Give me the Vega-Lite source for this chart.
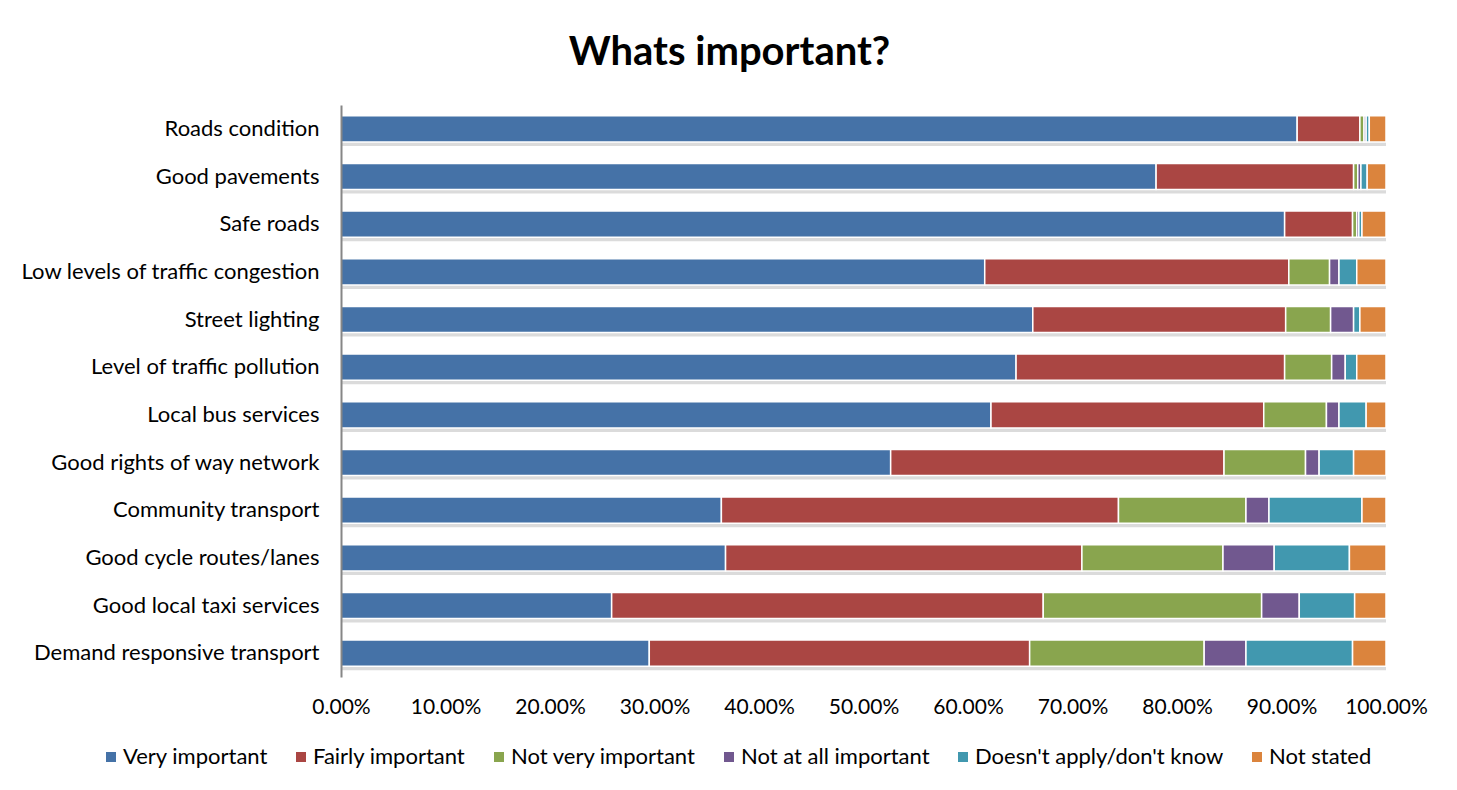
{
  "$schema": "https://vega.github.io/schema/vega-lite/v6.json",
  "width": 1045,
  "height": 572,
  "autosize": {"type": "none"},
  "padding": {"left": 341, "top": 105, "right": 71, "bottom": 113},
  "background": "white",
  "title": {"text": "Whats important?", "font": "Lato", "fontSize": 40, "fontWeight": "bold", "color": "#000", "anchor": "middle", "dx": -134, "offset": 32},
  "config": {"view": {"stroke": null}, "font": "Lato"},
  "datasets": {
    "d": [
      {"item": "Roads condition", "response": "Very important", "pct": 91.5},
      {"item": "Roads condition", "response": "Fairly important", "pct": 6.0},
      {"item": "Roads condition", "response": "Not very important", "pct": 0.4},
      {"item": "Roads condition", "response": "Not at all important", "pct": 0.2},
      {"item": "Roads condition", "response": "Doesn't apply/don't know", "pct": 0.3},
      {"item": "Roads condition", "response": "Not stated", "pct": 1.6},
      {"item": "Good pavements", "response": "Very important", "pct": 78.0},
      {"item": "Good pavements", "response": "Fairly important", "pct": 18.9},
      {"item": "Good pavements", "response": "Not very important", "pct": 0.4},
      {"item": "Good pavements", "response": "Not at all important", "pct": 0.3},
      {"item": "Good pavements", "response": "Doesn't apply/don't know", "pct": 0.6},
      {"item": "Good pavements", "response": "Not stated", "pct": 1.8},
      {"item": "Safe roads", "response": "Very important", "pct": 90.3},
      {"item": "Safe roads", "response": "Fairly important", "pct": 6.5},
      {"item": "Safe roads", "response": "Not very important", "pct": 0.4},
      {"item": "Safe roads", "response": "Not at all important", "pct": 0.2},
      {"item": "Safe roads", "response": "Doesn't apply/don't know", "pct": 0.3},
      {"item": "Safe roads", "response": "Not stated", "pct": 2.3},
      {"item": "Low levels of traffic congestion", "response": "Very important", "pct": 61.6},
      {"item": "Low levels of traffic congestion", "response": "Fairly important", "pct": 29.1},
      {"item": "Low levels of traffic congestion", "response": "Not very important", "pct": 3.9},
      {"item": "Low levels of traffic congestion", "response": "Not at all important", "pct": 0.9},
      {"item": "Low levels of traffic congestion", "response": "Doesn't apply/don't know", "pct": 1.7},
      {"item": "Low levels of traffic congestion", "response": "Not stated", "pct": 2.8},
      {"item": "Street lighting", "response": "Very important", "pct": 66.2},
      {"item": "Street lighting", "response": "Fairly important", "pct": 24.2},
      {"item": "Street lighting", "response": "Not very important", "pct": 4.3},
      {"item": "Street lighting", "response": "Not at all important", "pct": 2.2},
      {"item": "Street lighting", "response": "Doesn't apply/don't know", "pct": 0.6},
      {"item": "Street lighting", "response": "Not stated", "pct": 2.5},
      {"item": "Level of traffic pollution", "response": "Very important", "pct": 64.6},
      {"item": "Level of traffic pollution", "response": "Fairly important", "pct": 25.7},
      {"item": "Level of traffic pollution", "response": "Not very important", "pct": 4.5},
      {"item": "Level of traffic pollution", "response": "Not at all important", "pct": 1.3},
      {"item": "Level of traffic pollution", "response": "Doesn't apply/don't know", "pct": 1.1},
      {"item": "Level of traffic pollution", "response": "Not stated", "pct": 2.8},
      {"item": "Local bus services", "response": "Very important", "pct": 62.2},
      {"item": "Local bus services", "response": "Fairly important", "pct": 26.1},
      {"item": "Local bus services", "response": "Not very important", "pct": 6.0},
      {"item": "Local bus services", "response": "Not at all important", "pct": 1.2},
      {"item": "Local bus services", "response": "Doesn't apply/don't know", "pct": 2.6},
      {"item": "Local bus services", "response": "Not stated", "pct": 1.9},
      {"item": "Good rights of way network", "response": "Very important", "pct": 52.6},
      {"item": "Good rights of way network", "response": "Fairly important", "pct": 31.9},
      {"item": "Good rights of way network", "response": "Not very important", "pct": 7.8},
      {"item": "Good rights of way network", "response": "Not at all important", "pct": 1.3},
      {"item": "Good rights of way network", "response": "Doesn't apply/don't know", "pct": 3.3},
      {"item": "Good rights of way network", "response": "Not stated", "pct": 3.1},
      {"item": "Community transport", "response": "Very important", "pct": 36.4},
      {"item": "Community transport", "response": "Fairly important", "pct": 38.0},
      {"item": "Community transport", "response": "Not very important", "pct": 12.2},
      {"item": "Community transport", "response": "Not at all important", "pct": 2.2},
      {"item": "Community transport", "response": "Doesn't apply/don't know", "pct": 8.9},
      {"item": "Community transport", "response": "Not stated", "pct": 2.3},
      {"item": "Good cycle routes/lanes", "response": "Very important", "pct": 36.8},
      {"item": "Good cycle routes/lanes", "response": "Fairly important", "pct": 34.1},
      {"item": "Good cycle routes/lanes", "response": "Not very important", "pct": 13.5},
      {"item": "Good cycle routes/lanes", "response": "Not at all important", "pct": 4.9},
      {"item": "Good cycle routes/lanes", "response": "Doesn't apply/don't know", "pct": 7.2},
      {"item": "Good cycle routes/lanes", "response": "Not stated", "pct": 3.5},
      {"item": "Good local taxi services", "response": "Very important", "pct": 25.9},
      {"item": "Good local taxi services", "response": "Fairly important", "pct": 41.3},
      {"item": "Good local taxi services", "response": "Not very important", "pct": 20.9},
      {"item": "Good local taxi services", "response": "Not at all important", "pct": 3.6},
      {"item": "Good local taxi services", "response": "Doesn't apply/don't know", "pct": 5.3},
      {"item": "Good local taxi services", "response": "Not stated", "pct": 3.0},
      {"item": "Demand responsive transport", "response": "Very important", "pct": 29.5},
      {"item": "Demand responsive transport", "response": "Fairly important", "pct": 36.4},
      {"item": "Demand responsive transport", "response": "Not very important", "pct": 16.7},
      {"item": "Demand responsive transport", "response": "Not at all important", "pct": 4.0},
      {"item": "Demand responsive transport", "response": "Doesn't apply/don't know", "pct": 10.2},
      {"item": "Demand responsive transport", "response": "Not stated", "pct": 3.2}
    ]
  },
  "data": {"name": "d"},
  "transform": [
    {"calculate": "indexof(['Very important','Fairly important','Not very important','Not at all important','Doesn\\'t apply/don\\'t know','Not stated'], datum.response)", "as": "ord"}
  ],
  "encoding": {
    "y": {
      "field": "item", "type": "nominal", "sort": null, "title": null,
      "scale": {"paddingInner": 0.45, "paddingOuter": 0.225},
      "axis": {"labelFont": "Lato", "labelFontSize": 22, "labelColor": "#000", "domainColor": "#868686", "domainWidth": 2, "ticks": false, "labelPadding": 22, "labelLimit": 400, "zindex": 1}
    }
  },
  "layer": [
    {
      "mark": {"type": "bar", "color": "#bdbdbd", "yOffset": 4, "opacity": 0.55},
      "encoding": {
        "x": {"aggregate": "sum", "field": "pct", "type": "quantitative", "stack": "zero", "scale": {"domain": [0, 100], "nice": false}}
      }
    },
    {
      "mark": {"type": "bar", "stroke": "white", "strokeWidth": 1.5},
      "encoding": {
        "x": {
          "field": "pct", "type": "quantitative", "stack": "zero", "title": null,
          "scale": {"domain": [0, 100], "nice": false},
          "axis": {"values": [0,10,20,30,40,50,60,70,80,90,100], "labelExpr": "format(datum.value/100, '.2%')", "labelFont": "Lato", "labelFontSize": 21, "labelColor": "#000", "domain": false, "ticks": false, "grid": false, "labelPadding": 19, "labelFlush": false}
        },
        "color": {
          "field": "response", "type": "nominal", "title": null,
          "scale": {
            "domain": ["Very important", "Fairly important", "Not very important", "Not at all important", "Doesn't apply/don't know", "Not stated"],
            "range": ["#4572A7", "#AA4643", "#89A54E", "#71588F", "#4198AF", "#DB843D"]
          },
          "legend": {"orient": "none", "legendX": -241, "legendY": 641, "direction": "horizontal", "labelFont": "Lato", "labelFontSize": 22, "labelColor": "#000", "symbolType": "square", "symbolSize": 100, "symbolStrokeWidth": 0, "columnPadding": 22, "labelOffset": 1, "labelLimit": 400}
        },
        "order": {"field": "ord", "type": "quantitative"}
      }
    }
  ]
}
